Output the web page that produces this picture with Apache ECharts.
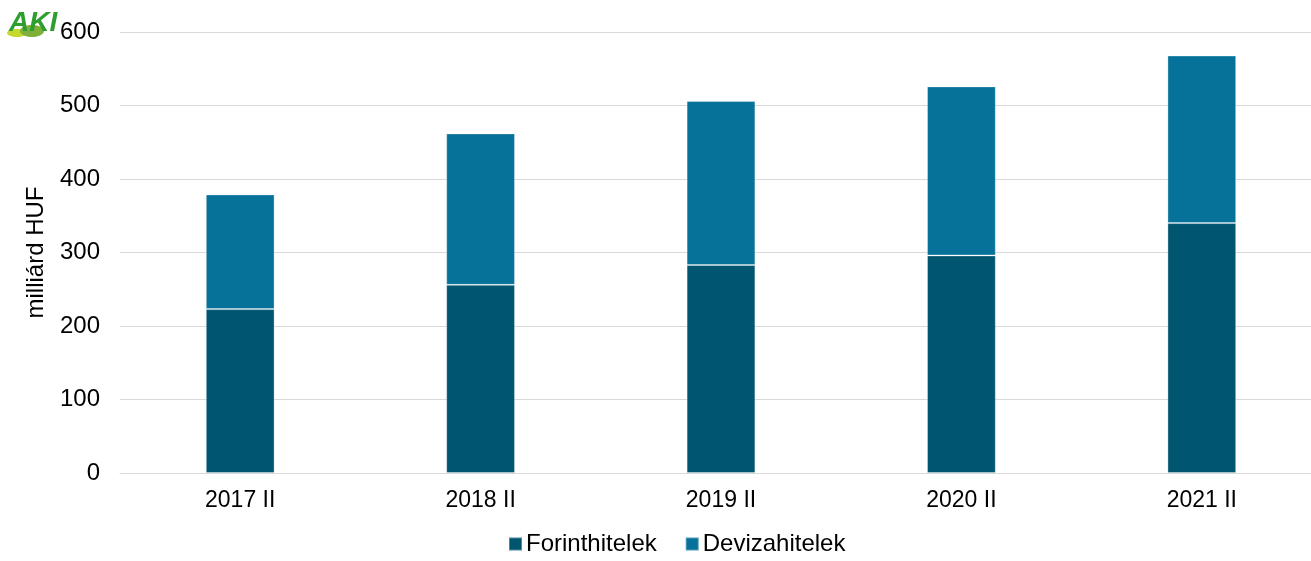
<!DOCTYPE html>
<html>
<head>
<meta charset="utf-8">
<script src="https://cdn.jsdelivr.net/npm/echarts@6/dist/echarts.min.js"></script>
<style>
  html, body { margin: 0; padding: 0; background: #fff; }
  #chart { width: 1311px; height: 561px; }
</style>
</head>
<body>
<div id="chart"></div>
<script>
const categories = ['2017 II', '2018 II', '2019 II', '2020 II', '2021 II']
const forintValues = [223, 256, 283, 296, 340]
const devizaValues = [156, 206, 223, 230, 228]
const yTicks = [0, 100, 200, 300, 400, 500, 600]

const chart = echarts.init(document.getElementById('chart'))

const barBorder = { borderColor: 'rgba(255,255,255,0.3)', borderWidth: 1 }

chart.setOption({
    animation: false,
    textStyle: { fontFamily: 'Liberation Sans, Arial, sans-serif' },
    grid: { left: 120, width: 1202, top: 32, bottom: 88, outerBoundsMode: 'none' },
    legend: {
        bottom: 0,
        left: 503,
        itemWidth: 13,
        itemHeight: 13,
        itemGap: 28,
        icon: 'rect',
        textStyle: { fontSize: 24, color: '#000', padding: [0, 0, 0, -1] },
        data: ['Forinthitelek', 'Devizahitelek']
    },
    xAxis: {
        type: 'category',
        data: categories,
        axisLine: { lineStyle: { color: '#d9d9d9' } },
        axisTick: { show: false },
        axisLabel: { fontSize: 23, color: '#000', margin: 16 }
    },
    yAxis: {
        type: 'value',
        min: yTicks[0],
        max: yTicks[yTicks.length - 1],
        interval: 100,
        name: 'milliárd HUF',
        nameLocation: 'middle',
        nameGap: 72,
        nameTextStyle: { fontSize: 24, color: '#000' },
        axisLabel: { fontSize: 24, color: '#000', margin: 20 },
        splitLine: { lineStyle: { color: '#d9d9d9' } }
    },
    series: [
        {
            name: 'Forinthitelek',
            type: 'bar',
            stack: 'total',
            barWidth: '28.6%',
            itemStyle: Object.assign({ color: '#005570' }, barBorder),
            data: forintValues
        },
        {
            name: 'Devizahitelek',
            type: 'bar',
            stack: 'total',
            barWidth: '28.6%',
            itemStyle: Object.assign({ color: '#077299' }, barBorder),
            data: devizaValues
        }
    ],
    graphic: [
        {
            type: 'ellipse',
            shape: { cx: 17, cy: 33, rx: 10, ry: 4 },
            style: { fill: '#c6d92e' }
        },
        {
            type: 'ellipse',
            shape: { cx: 32, cy: 31, rx: 12, ry: 6 },
            style: { fill: '#7fb13a' }
        },
        {
            type: 'text',
            left: 9,
            top: 9,
            style: {
                text: 'AKI',
                fontSize: 28,
                fontWeight: 'bold',
                fontStyle: 'italic',
                fontFamily: 'Liberation Sans, Arial, sans-serif',
                fill: '#2e9e2e'
            }
        }
    ]
})
</script>
</body>
</html>
